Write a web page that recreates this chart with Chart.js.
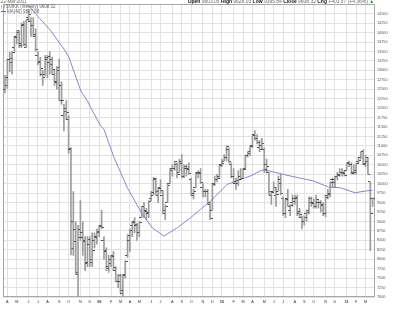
<!DOCTYPE html>
<html><head><meta charset="utf-8">
<script src="https://cdn.jsdelivr.net/npm/chart.js@4.4.1/dist/chart.umd.min.js"></script>
<style>
html,body{margin:0;padding:0;background:#fff;}
#wrap{position:relative;width:400px;height:309px;overflow:hidden;background:#fff;}
#c{position:absolute;left:0;top:0;}
.t{position:absolute;font-family:"Liberation Sans",Arial,sans-serif;font-size:9px;line-height:10px;white-space:nowrap;color:#666;transform:scale(0.5);}
.tl{transform-origin:0 0;}
.tr{transform-origin:100% 0;transform:scale(0.55);}
.b{font-weight:bold;color:#111;}
.up{color:#2a9a2a;}
.ico{display:inline-block;width:5px;height:7px;border-left:1px solid #666;border-right:1px solid #666;margin-right:3px;vertical-align:-1px;}
.mam{display:inline-block;width:10px;height:2px;background:#6a6ab4;margin-right:2px;vertical-align:2px;}
</style></head><body>
<div id="wrap">
<canvas id="c" width="400" height="309"></canvas>
<div class="t tl" style="left:1px;top:-1px">22-Mar-2011</div>
<div class="t tl" style="left:1px;top:4px"><span class="ico"></span>$NIKK (Weekly) 9608.32</div>
<div class="t tl" style="left:1px;top:9px"><span class="mam"></span>MA(40) 9827.86</div>
<div class="t tr" style="right:26px;top:-1px"><span class="b">Open</span> 9603.05 <span class="b">High</span> 9628.03 <span class="b">Low</span> 9395.84 <span class="b">Close</span> 9608.32 <span class="b">Chg</span> +401.57 (+4.36%) <span class="up">&#9650;</span></div>
</div>
<script>
// Weekly bars from week of 24-Mar-2008 to 22-Mar-2011
const opens = [12500,12600,13300,13200,13600,13900,14000,13700,14200,13600,
14400,14300,14200,13900,13400,13200,12900,12900,13300,13200,
13300,12900,12700,13000,12600,11800,12000,11700,10900,9000,
8800,7600,8800,8700,8500,7900,8400,8000,8500,8600,
8700,8900,8500,8200,7800,7900,8100,7700,7400,7400,
7100,7600,8100,8500,8900,9000,8900,8700,9100,9400,
9300,9200,9600,9700,10100,9700,9900,9700,9200,9500,
10000,10400,10400,10500,10300,10600,10200,10400,10400,10100,
9700,9900,10300,10300,9900,9800,9800,9450,9300,10000,
10100,10200,10500,10600,10700,10900,10500,10200,10000,10000,
10200,10150,10400,10750,10800,11000,11300,11200,10950,11000,
10900,10500,10300,9700,9800,9700,9800,10100,9600,9200,
9600,9300,9500,9600,9600,9200,9100,9000,9200,9300,
9600,9500,9400,9500,9500,9450,9200,9700,9750,10100,
10100,10200,10250,10300,10300,10350,10550,10500,10300,10300,
10600,10700,10850,10500,10600,10050,9603];
const highs = [12870,13300,13480,13500,13900,14050,14050,14250,14300,14340,
14601,14400,14400,14100,13500,13350,13000,13400,13400,13500,
13350,13000,13100,13300,12700,12100,12200,11800,10950,9794,
9000,8900,9550,9000,8600,8600,8600,8700,8700,8800,
8900,9300,8600,8300,8100,8100,8200,7800,7600,7600,
7600,7960,8650,8800,9000,9100,8950,9000,9400,9500,
9350,9550,9800,10170,10150,9900,10100,9800,9450,10000,
10400,10500,10600,10550,10650,10770,10500,10500,10550,10150,
9850,10300,10350,10400,10000,9850,9850,9500,10000,10200,
10250,10500,10650,10770,11000,10950,10550,10400,10150,10350,
10400,10400,10760,10850,11000,11300,11408,11300,11150,11200,
10950,10650,10300,9800,10050,9900,10200,10250,9650,9600,
9850,9450,9700,9700,9700,9350,9150,9150,9300,9650,
9650,9600,9700,9550,9550,9500,9700,9850,10050,10150,
10200,10300,10400,10400,10350,10550,10600,10550,10500,10550,
10700,10850,10900,10750,10700,10050,9628];
const lows = [12400,12520,12960,12900,13500,13700,13600,13600,13650,13600,
14300,13900,13900,13500,13150,12850,12600,12850,12800,12900,
12900,12600,12500,12200,12100,11400,11700,10800,8115,8100,
7600,6995,8500,8100,7700,7800,7800,7800,8300,8400,
8600,8800,8000,7700,7650,7800,7700,7400,7250,7100,
7021,7500,8050,8200,8600,8700,8500,8600,9100,9100,
9050,9100,9550,9700,9700,9500,9750,9200,9050,9500,
10000,10200,10350,10150,10300,10150,10150,10200,10250,9700,
9600,9900,10150,10000,9650,9650,9450,9050,9300,9950,
10050,10150,10450,10600,10600,10550,10150,10000,9850,9950,
10100,10150,10400,10700,10750,10950,11150,11050,10850,10900,
10300,10300,9700,9450,9800,9400,9800,9700,9150,9100,
9400,9150,9400,9450,9150,9100,8800,8900,9000,9200,
9400,9350,9350,9350,9250,9150,9120,9600,9650,9900,
9900,10100,10200,10200,10200,10350,10450,10250,10250,10250,
10550,10650,10500,10450,10250,8227,9396];
const closes = [12820,13293,13323,13476,13863,14049,13655,14219,13690,14338,
14489,14181,13942,13545,13237,13039,12803,13334,13376,13168,
13019,12666,13072,12212,12215,11920,11893,10938,8276,8462,
7649,8577,8583,8462,7910,8512,7917,8235,8588,8739,
8859,8836,8230,7745,7994,8076,7779,7416,7568,7173,
7569,7945,8626,8749,8964,8908,8707,8977,9386,9265,
9225,9523,9768,10135,9786,9877,9816,9287,9395,9945,
10357,10412,10597,10238,10534,10187,10444,10370,10265,9731,
9794,10258,10282,10034,9789,9804,9497,9081,9978,10107,
10142,10494,10546,10681,10982,10590,10198,10057,10092,10123,
10126,10368,10751,10846,10996,11286,11204,11102,10914,11057,
10364,10462,9784,9762,9901,9705,9995,9737,9203,9585,
9408,9431,9537,9642,9253,9179,8991,9114,9239,9509,
9471,9404,9589,9500,9427,9202,9625,9725,10022,10040,
10178,10212,10304,10279,10229,10541,10499,10275,10360,10543,
10605,10842,10527,10694,10254,9207,9608];

// MA(40) (week number, value)
const maWeek  = [9.5, 13.8, 19.5, 25.1, 27.2, 32.2, 35.0, 36.4, 40.6, 42.0, 46.3, 51.9, 58.3, 62.5, 67.4, 73.1, 78.7, 83.0, 87.2, 94.3, 104.1, 109.1, 111.2, 121.1, 131.0, 137.3, 142.3, 148.6, 152.8, 156];
const maValue = [14750, 14439, 14042, 13557, 13335, 12453, 12185, 12010, 11526, 11439, 10687, 9892, 9188, 8833, 8613, 8833, 9098, 9320, 9540, 9982, 10203, 10360, 10352, 10203, 10070, 9910, 9892, 9760, 9805, 9828];

const monthLabels = ['A','M','J','J','A','S','O','N','D','09','F','M','A','M','J','J','A','S','O','N','D','10','F','M','A','M','J','J','A','S','O','N','D','11','F','M'];
const firstWeek = Date.UTC(2008, 2, 24);
const firstMonth = {year: 2008, month: 3};

// week position of the first trading week of each month
const monthTicks = monthLabels.map((_, k) => {
  const y = firstMonth.year + Math.floor((firstMonth.month + k) / 12);
  const m = (firstMonth.month + k) % 12;
  const d = Math.round((Date.UTC(y, m, 1) - firstWeek) / 86400000);
  return Math.floor(d / 7) + (d % 7 >= 5 ? 1 : 0);
});

function tickImg(side) {
  const c = document.createElement('canvas');
  c.width = 5; c.height = 1;
  const g = c.getContext('2d');
  g.fillStyle = '#505050';
  if (side === 'open') g.fillRect(0, 0, 2, 1); else g.fillRect(3, 0, 2, 1);
  return c;
}
const openImg = tickImg('open');
const closeImg = tickImg('close');

const FONT = '"Liberation Sans", Arial, sans-serif';

const framePlugin = {
  id: 'frame',
  beforeDatasetsDraw(chart) {
    const a = chart.chartArea, ctx = chart.ctx;
    ctx.save();
    ctx.strokeStyle = '#a8a8a8';
    ctx.lineWidth = 1;
    ctx.strokeRect(Math.round(a.left) + 0.5, Math.round(a.top) + 0.5, Math.round(a.right - a.left) - 1, Math.round(a.bottom - a.top) - 1);
    ctx.restore();
  }
};

new Chart(document.getElementById('c'), {
  type: 'bar',
  data: {
    datasets: [
      {
        type: 'line', label: 'Open', showLine: false,
        data: opens.map((v, i) => ({x: i, y: v})),
        pointStyle: openImg, pointRadius: 2, pointHoverRadius: 2
      },
      {
        type: 'line', label: 'Close', showLine: false,
        data: closes.map((v, i) => ({x: i, y: v})),
        pointStyle: closeImg, pointRadius: 2, pointHoverRadius: 2
      },
      {
        type: 'line', label: 'MA(40)',
        data: maWeek.map((w, i) => ({x: w, y: maValue[i]})),
        borderColor: '#7c7cba', borderWidth: 0.9, pointRadius: 0, tension: 0, fill: false
      },
      {
        type: 'bar', label: '$NIKK',
        data: lows.map((l, i) => ({x: i, y: [l, highs[i]]})),
        backgroundColor: '#9c9c9c', borderWidth: 0, barThickness: 1
      }
    ]
  },
  options: {
    responsive: false,
    animation: false,
    events: [],
    devicePixelRatio: 1,
    layout: {padding: {left: 2, top: 3, right: 0, bottom: 0}},
    plugins: {legend: {display: false}, tooltip: {enabled: false}, title: {display: false}},
    scales: {
      x: {
        type: 'linear', min: -0.85, max: 157, offset: false,
        grid: {color: '#e2e2e2', drawTicks: false, offset: false},
        border: {display: false},
        afterBuildTicks: (s) => { s.ticks = monthTicks.map(v => ({value: v})); },
        afterFit: (s) => { s.height = 12; },
        ticks: {
          autoSkip: false, maxRotation: 0, minRotation: 0, padding: 3,
          color: '#333',
          font: (ctx) => ({family: FONT, size: 3.8, weight: (monthLabels[ctx.index] || '').length === 2 ? 'bold' : 'normal'}),
          callback: (v, i) => monthLabels[i]
        }
      },
      y: {
        type: 'linear', position: 'right', min: 7000, max: 14750,
        grid: {color: '#e2e2e2', drawTicks: false},
        border: {display: false},
        afterFit: (s) => { s.width = 25; },
        ticks: {
          stepSize: 250, autoSkip: false, padding: 2, color: '#555',
          font: {family: FONT, size: 3.8},
          callback: (v) => v >= 14750 ? '' : String(v)
        }
      }
    }
  },
  plugins: [framePlugin]
});
</script>
</body></html>
